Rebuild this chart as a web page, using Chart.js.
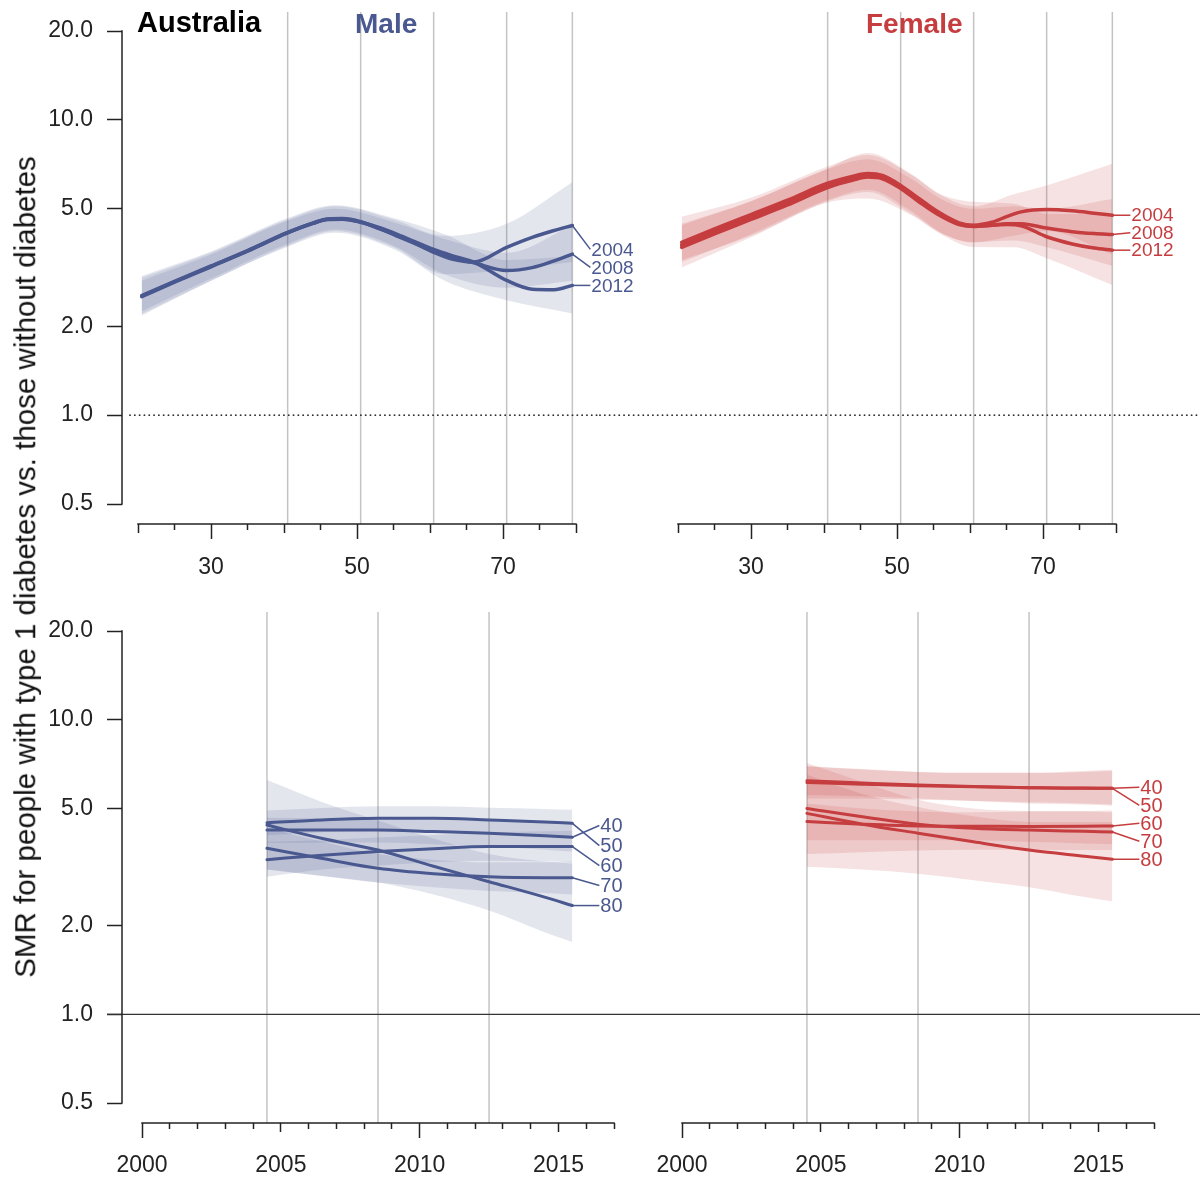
<!DOCTYPE html>
<html>
<head>
<meta charset="utf-8">
<title>SMR type 1 diabetes - Australia</title>
<script src="https://cdn.jsdelivr.net/npm/chart.js@4.4.1/dist/chart.umd.min.js"></script>
<style>
  body { margin: 0; background: #fff; }
  #wrap { position: relative; width: 1200px; height: 1181px; overflow: hidden; font-family: 'Liberation Sans', Arial, sans-serif; }
  canvas { position: absolute; }
  .txt { position: absolute; white-space: nowrap; line-height: 1; }
</style>
</head>
<body>
<div id="wrap">
  <canvas id="ageMale" width="640" height="590" style="left:0;top:0;width:640px;height:590px"></canvas>
  <canvas id="ageFemale" width="660" height="590" style="left:540px;top:0;width:660px;height:590px"></canvas>
  <canvas id="yearMale" width="640" height="591" style="left:0;top:590px;width:640px;height:591px"></canvas>
  <canvas id="yearFemale" width="660" height="591" style="left:540px;top:590px;width:660px;height:591px"></canvas>
  <div class="txt" style="left:137px;top:8px;font-size:29px;font-weight:bold;color:#000">Australia</div>
  <div class="txt" style="left:355px;top:10px;font-size:28px;font-weight:bold;color:#4a5890">Male</div>
  <div class="txt" style="left:866px;top:10px;font-size:28px;font-weight:bold;color:#c53d3f">Female</div>
  <div class="txt" style="left:25px;top:567px;font-size:29.5px;color:#111;transform:translate(-50%,-50%) rotate(-90deg)">SMR for people with type 1 diabetes vs. those without diabetes</div>
</div>
<script>
const MALE = '#4a5890';
const FEMALE = '#c53d3f';
const MALE_BAND = 'rgba(74,88,144,0.15)';
const FEMALE_BAND = 'rgba(197,61,63,0.15)';
const FONT = "'Liberation Sans', Arial, sans-serif";

// shared log y axis
const smrTicks = [0.5, 1, 2, 5, 10, 20];
const smrTop = 20;
const smrBottom = 0.4278; // a little room under 0.5 for the detached x axis

// ---- top row: SMR by age, one curve per calendar year
const periodNames = ['2004', '2008', '2012'];
const ageTicks = [20, 25, 30, 35, 40, 45, 50, 55, 60, 65, 70, 75, 80];
const ageLabels = [30, 50, 70];
const ageMedium = [20, 40, 60, 80];
const ageMarks = [40.5, 50.5, 60.5, 70.5, 79.5];

const maleAges = [20.5, 25, 30, 35, 40.5, 44, 46, 48, 50.5, 53, 56, 60.5, 63, 66, 70.5, 74, 77, 79.5];
const maleAge2004 = [2.54, 2.84, 3.20, 3.61, 4.16, 4.48, 4.62, 4.63, 4.52, 4.28, 4.02, 3.56, 3.38, 3.30, 3.70, 4.00, 4.22, 4.39];
const maleAge2008 = [2.53, 2.83, 3.19, 3.60, 4.15, 4.47, 4.61, 4.62, 4.51, 4.30, 3.99, 3.60, 3.42, 3.28, 3.09, 3.16, 3.33, 3.51];
const maleAge2012 = [2.52, 2.82, 3.18, 3.59, 4.14, 4.46, 4.60, 4.61, 4.50, 4.32, 4.05, 3.64, 3.47, 3.30, 2.86, 2.67, 2.66, 2.75];

const maleBandAges = [20.5, 30, 40.5, 47, 55, 62, 70.5, 79.5];
const maleAge2004Lo = [2.20, 2.85, 3.75, 4.20, 3.70, 3.00, 3.10, 3.30];
const maleAge2004Hi = [2.92, 3.55, 4.60, 5.10, 4.60, 4.05, 4.45, 6.15];
const maleAge2008Lo = [2.25, 2.90, 3.80, 4.25, 3.75, 3.00, 2.70, 2.85];
const maleAge2008Hi = [2.85, 3.50, 4.55, 5.00, 4.50, 3.95, 3.55, 4.40];
const maleAge2012Lo = [2.17, 2.85, 3.72, 4.15, 3.65, 2.85, 2.45, 2.21];
const maleAge2012Hi = [2.96, 3.58, 4.65, 5.14, 4.65, 4.10, 3.35, 3.45];

const femaleAges = [20.5, 25, 30, 35, 40.5, 44, 46, 48, 50.5, 53, 55.5, 58.5, 60.5, 63, 65, 67, 70.5, 74, 77, 79.5];
const femaleAge2004 = [3.85, 4.27, 4.78, 5.35, 6.10, 6.45, 6.58, 6.48, 6.00, 5.42, 4.90, 4.48, 4.40, 4.50, 4.70, 4.88, 4.97, 4.92, 4.83, 4.75];
const femaleAge2008 = [3.77, 4.19, 4.69, 5.25, 6.00, 6.35, 6.49, 6.40, 5.93, 5.35, 4.85, 4.45, 4.37, 4.40, 4.45, 4.45, 4.30, 4.18, 4.12, 4.09];
const femaleAge2012 = [3.70, 4.11, 4.60, 5.15, 5.90, 6.25, 6.40, 6.32, 5.86, 5.28, 4.80, 4.42, 4.35, 4.40, 4.42, 4.38, 4.02, 3.80, 3.68, 3.62];

const femaleBandAges = [20.5, 30, 40.5, 46, 52, 56, 60.5, 66, 70.5, 79.5];
const femaleAge2004Lo = [3.35, 4.05, 5.30, 5.70, 4.80, 4.15, 3.85, 4.05, 4.20, 3.50];
const femaleAge2004Hi = [4.70, 5.45, 6.95, 7.60, 6.50, 5.55, 5.10, 5.60, 6.00, 7.10];
const femaleAge2008Lo = [3.30, 4.10, 5.35, 5.80, 4.90, 4.15, 3.85, 3.90, 3.70, 3.20];
const femaleAge2008Hi = [4.45, 5.30, 6.80, 7.35, 6.30, 5.40, 5.00, 5.10, 5.00, 5.40];
const femaleAge2012Lo = [3.16, 4.00, 5.25, 5.42, 4.75, 4.10, 3.71, 3.70, 3.40, 2.76];
const femaleAge2012Hi = [4.40, 5.30, 6.85, 7.73, 6.55, 5.60, 5.28, 5.20, 4.80, 4.80];

// ---- bottom row: SMR by calendar year, one curve per age
const ageGroupNames = ['40', '50', '60', '70', '80'];
const yearTicks = [2000, 2001, 2002, 2003, 2004, 2005, 2006, 2007, 2008, 2009, 2010, 2011, 2012, 2013, 2014, 2015, 2016, 2017];
const yearLabels = [2000, 2005, 2010, 2015];
const yearLong = [2000, 2010];
const yearMedium = [2005, 2015];
const yearMarks = [2004.5, 2008.5, 2012.5];
const calYears = [2004.5, 2006.5, 2008.5, 2010.5, 2012.5, 2014.5, 2015.5];

const maleYear40 = [4.22, 4.22, 4.22, 4.17, 4.12, 4.04, 3.99];
const maleYear50 = [4.47, 4.57, 4.63, 4.63, 4.57, 4.50, 4.45];
const maleYear60 = [3.35, 3.47, 3.57, 3.65, 3.71, 3.71, 3.71];
const maleYear70 = [3.66, 3.38, 3.13, 3.00, 2.93, 2.91, 2.91];
const maleYear80 = [4.39, 3.95, 3.61, 3.18, 2.82, 2.50, 2.34];
const maleYear40Lo = [3.82, 3.83, 3.83, 3.78, 3.72, 3.62, 3.57];
const maleYear40Hi = [4.65, 4.63, 4.62, 4.58, 4.55, 4.50, 4.46];
const maleYear50Lo = [4.05, 4.15, 4.20, 4.20, 4.13, 4.05, 4.00];
const maleYear50Hi = [4.92, 5.02, 5.08, 5.08, 5.03, 4.98, 4.95];
const maleYear60Lo = [2.93, 3.10, 3.20, 3.28, 3.32, 3.30, 3.28];
const maleYear60Hi = [3.85, 3.90, 3.98, 4.06, 4.14, 4.18, 4.20];
const maleYear70Lo = [3.10, 2.95, 2.80, 2.70, 2.62, 2.58, 2.55];
const maleYear70Hi = [4.30, 3.85, 3.50, 3.35, 3.28, 3.28, 3.30];
const maleYear80Lo = [3.10, 2.95, 2.80, 2.55, 2.25, 1.90, 1.76];
const maleYear80Hi = [6.24, 5.25, 4.55, 3.95, 3.50, 3.30, 3.25];

const femaleYear40 = [6.21, 6.10, 6.00, 5.93, 5.88, 5.85, 5.85];
const femaleYear50 = [6.12, 6.04, 5.97, 5.92, 5.88, 5.86, 5.85];
const femaleYear60 = [4.51, 4.42, 4.36, 4.35, 4.34, 4.35, 4.36];
const femaleYear70 = [5.00, 4.68, 4.42, 4.28, 4.22, 4.18, 4.16];
const femaleYear80 = [4.81, 4.42, 4.12, 3.85, 3.61, 3.44, 3.36];
const femaleYear40Lo = [5.55, 5.50, 5.40, 5.30, 5.20, 5.15, 5.10];
const femaleYear40Hi = [6.95, 6.80, 6.65, 6.60, 6.60, 6.70, 6.76];
const femaleYear50Lo = [5.40, 5.40, 5.35, 5.30, 5.25, 5.20, 5.15];
const femaleYear50Hi = [6.95, 6.78, 6.65, 6.60, 6.60, 6.65, 6.70];
const femaleYear60Lo = [3.90, 3.90, 3.90, 3.90, 3.85, 3.80, 3.78];
const femaleYear60Hi = [5.20, 5.00, 4.88, 4.85, 4.88, 4.90, 4.92];
const femaleYear70Lo = [3.50, 3.55, 3.60, 3.62, 3.62, 3.61, 3.61];
const femaleYear70Hi = [7.13, 6.15, 5.35, 5.00, 4.90, 4.88, 4.85];
const femaleYear80Lo = [3.17, 3.10, 3.00, 2.85, 2.70, 2.50, 2.42];
const femaleYear80Hi = [6.50, 5.60, 5.05, 4.70, 4.50, 4.50, 4.50];

function pts(xs, ys) {
    return xs.map((x, i) => ({ x: x, y: ys[i] }));
}

function lineSet(xs, ys, color, width) {
    return {
        data: pts(xs, ys), borderColor: color, borderWidth: width,
        pointRadius: 0, fill: false, cubicInterpolationMode: 'monotone',
        borderCapStyle: 'round', borderJoinStyle: 'round', order: 0
    };
}

// upper edge fills down to the lower edge (next dataset)
function bandSets(xs, lo, hi, color) {
    return [
        { data: pts(xs, hi), borderColor: 'rgba(0,0,0,0)', borderWidth: 0, backgroundColor: color,
          pointRadius: 0, fill: '+1', cubicInterpolationMode: 'monotone', order: 1 },
        { data: pts(xs, lo), borderColor: 'rgba(0,0,0,0)', borderWidth: 0,
          pointRadius: 0, fill: false, cubicInterpolationMode: 'monotone', order: 1 }
    ];
}

function tickDash(longs, mediums) {
    return c => longs.includes(c.tick.value) ? [] : (mediums.includes(c.tick.value) ? [9, 40] : [6, 40]);
}

// reference lines, R-style axis lines and the end labels
function deco(d) {
    return {
        id: 'deco',
        beforeDatasetsDraw(chart) {
            const { ctx, chartArea, scales: { x, y } } = chart;
            ctx.save();
            ctx.strokeStyle = '#c4c4c4';
            ctx.lineWidth = 1.5;
            d.vlines.forEach(v => {
                const px = x.getPixelForValue(v);
                ctx.beginPath();
                ctx.moveTo(px, chartArea.top - 19);
                ctx.lineTo(px, chartArea.bottom);
                ctx.stroke();
            });
            const py = y.getPixelForValue(1);
            ctx.strokeStyle = '#333';
            if (d.dotted) {
                ctx.lineWidth = 1.9;
                ctx.lineCap = 'round';
                ctx.setLineDash([0.01, 4.8]);
            } else {
                ctx.lineWidth = 1.4;
            }
            ctx.beginPath();
            ctx.moveTo(d.refFrom, py);
            ctx.lineTo(d.refTo, py);
            ctx.stroke();
            ctx.restore();
        },
        afterDatasetsDraw(chart) {
            const { ctx } = chart;
            const metas = d.lines.map(i => chart.getDatasetMeta(i));
            const ends = metas.map(m => m.data[m.data.length - 1]);
            const lastY = ends[ends.length - 1].y;
            ctx.save();
            ctx.font = d.labelSize + 'px ' + FONT;
            ctx.textAlign = 'left';
            ctx.textBaseline = 'middle';
            ctx.strokeStyle = d.color;
            ctx.fillStyle = d.color;
            ctx.lineWidth = 1.5;
            d.names.forEach((name, k) => {
                const ly = lastY - (d.names.length - 1 - k) * d.gap;
                const e = ends[k];
                ctx.beginPath();
                ctx.moveTo(e.x, e.y);
                ctx.lineTo(e.x + d.dx, ly);
                ctx.stroke();
                ctx.fillText(name, e.x + d.dx + 1, ly + 1);
            });
            ctx.restore();
        },
        afterDraw(chart) {
            const { ctx, chartArea, scales: { x, y } } = chart;
            ctx.save();
            ctx.strokeStyle = '#222';
            ctx.lineWidth = 1.5;
            const t = x.ticks;
            ctx.beginPath();
            ctx.moveTo(x.getPixelForValue(t[0].value) - 0.75, chartArea.bottom);
            ctx.lineTo(x.getPixelForValue(t[t.length - 1].value) + 0.75, chartArea.bottom);
            ctx.stroke();
            if (d.showY) {
                ctx.beginPath();
                ctx.moveTo(chartArea.left, y.getPixelForValue(smrTop) - 0.75);
                ctx.lineTo(chartArea.left, y.getPixelForValue(smrTicks[0]) + 0.75);
                ctx.stroke();
            }
            ctx.restore();
        }
    };
}

function panel(id, cfg) {
    const showY = cfg.deco.showY;
    return new Chart(document.getElementById(id), {
        type: 'line',
        data: { datasets: cfg.datasets },
        options: {
            responsive: false,
            animation: false,
            events: [],
            layout: { padding: { left: showY ? 0 : 122, right: cfg.padRight, top: cfg.padTop, bottom: 0 } },
            plugins: { legend: { display: false }, tooltip: { enabled: false } },
            scales: {
                x: {
                    type: 'linear', position: 'bottom', min: cfg.xMin, max: cfg.xMax,
                    afterBuildTicks: s => { s.ticks = cfg.xTicks.map(v => ({ value: v })); },
                    afterFit: s => { s.height = cfg.axisH; },
                    border: { display: false },
                    grid: { drawOnChartArea: false, tickLength: 15, tickWidth: 1.5, tickColor: '#222',
                            tickBorderDash: tickDash(cfg.xLong, cfg.xMedium) },
                    ticks: { autoSkip: false, maxRotation: 0, padding: cfg.xPad, color: '#222',
                             font: { family: FONT, size: 23 },
                             callback: v => cfg.xLabels.includes(v) ? String(v) : '' }
                },
                y: {
                    type: 'logarithmic', display: showY, min: smrBottom, max: smrTop,
                    afterBuildTicks: s => { s.ticks = smrTicks.map(v => ({ value: v })); },
                    afterFit: s => { if (showY) s.width = 122; },
                    border: { display: false },
                    grid: { drawOnChartArea: false, tickLength: 15, tickWidth: 1.5, tickColor: '#222' },
                    ticks: { padding: 14, color: '#222', font: { family: FONT, size: 23 },
                             callback: v => Number(v).toFixed(1) }
                }
            }
        },
        plugins: [deco(cfg.deco)]
    });
}

// x range starts left of the first tick so the y axis sits detached, R style
const ageMin = 20 - 16 / 7.3;
const yearMin = 2000 - 20 / 27.73;

const topAge = { xMin: ageMin, xMax: 80, xTicks: ageTicks, xLabels: ageLabels, xLong: ageLabels, xMedium: ageMedium,
                 padTop: 31, axisH: 66, xPad: 15 };
const bottomYear = { xMin: yearMin, xMax: 2017, xTicks: yearTicks, xLabels: yearLabels, xLong: yearLong, xMedium: yearMedium,
                     padTop: 41, axisH: 58, xPad: 14 };

panel('ageMale', Object.assign({}, topAge, {
    padRight: 64,
    datasets: [
        lineSet(maleAges, maleAge2004, MALE, 3.5),
        lineSet(maleAges, maleAge2008, MALE, 3.5),
        lineSet(maleAges, maleAge2012, MALE, 3.5),
        ...bandSets(maleBandAges, maleAge2004Lo, maleAge2004Hi, MALE_BAND),
        ...bandSets(maleBandAges, maleAge2008Lo, maleAge2008Hi, MALE_BAND),
        ...bandSets(maleBandAges, maleAge2012Lo, maleAge2012Hi, MALE_BAND)
    ],
    deco: { showY: true, vlines: ageMarks, dotted: true, refFrom: 130, refTo: 600,
            lines: [0, 1, 2], names: periodNames, color: MALE, gap: 18, dx: 18, labelSize: 19 }
}));

panel('ageFemale', Object.assign({}, topAge, {
    padRight: 84,
    datasets: [
        lineSet(femaleAges, femaleAge2004, FEMALE, 3.5),
        lineSet(femaleAges, femaleAge2008, FEMALE, 3.5),
        lineSet(femaleAges, femaleAge2012, FEMALE, 3.5),
        ...bandSets(femaleBandAges, femaleAge2004Lo, femaleAge2004Hi, FEMALE_BAND),
        ...bandSets(femaleBandAges, femaleAge2008Lo, femaleAge2008Hi, FEMALE_BAND),
        ...bandSets(femaleBandAges, femaleAge2012Lo, femaleAge2012Hi, FEMALE_BAND)
    ],
    deco: { showY: false, vlines: ageMarks, dotted: true, refFrom: 60, refTo: 660,
            lines: [0, 1, 2], names: periodNames, color: FEMALE, gap: 17.5, dx: 18, labelSize: 19 }
}));

panel('yearMale', Object.assign({}, bottomYear, {
    padRight: 26,
    datasets: [
        lineSet(calYears, maleYear40, MALE, 3),
        lineSet(calYears, maleYear50, MALE, 3),
        lineSet(calYears, maleYear60, MALE, 3),
        lineSet(calYears, maleYear70, MALE, 3),
        lineSet(calYears, maleYear80, MALE, 3),
        ...bandSets(calYears, maleYear40Lo, maleYear40Hi, MALE_BAND),
        ...bandSets(calYears, maleYear50Lo, maleYear50Hi, MALE_BAND),
        ...bandSets(calYears, maleYear60Lo, maleYear60Hi, MALE_BAND),
        ...bandSets(calYears, maleYear70Lo, maleYear70Hi, MALE_BAND),
        ...bandSets(calYears, maleYear80Lo, maleYear80Hi, MALE_BAND)
    ],
    deco: { showY: true, vlines: yearMarks, dotted: false, refFrom: 107, refTo: 600,
            lines: [0, 1, 2, 3, 4], names: ageGroupNames, color: MALE, gap: 20, dx: 27, labelSize: 20 }
}));

panel('yearFemale', Object.assign({}, bottomYear, {
    padRight: 46,
    datasets: [
        lineSet(calYears, femaleYear40, FEMALE, 3),
        lineSet(calYears, femaleYear50, FEMALE, 3),
        lineSet(calYears, femaleYear60, FEMALE, 3),
        lineSet(calYears, femaleYear70, FEMALE, 3),
        lineSet(calYears, femaleYear80, FEMALE, 3),
        ...bandSets(calYears, femaleYear40Lo, femaleYear40Hi, FEMALE_BAND),
        ...bandSets(calYears, femaleYear50Lo, femaleYear50Hi, FEMALE_BAND),
        ...bandSets(calYears, femaleYear60Lo, femaleYear60Hi, FEMALE_BAND),
        ...bandSets(calYears, femaleYear70Lo, femaleYear70Hi, FEMALE_BAND),
        ...bandSets(calYears, femaleYear80Lo, femaleYear80Hi, FEMALE_BAND)
    ],
    deco: { showY: false, vlines: yearMarks, dotted: false, refFrom: 60, refTo: 660,
            lines: [0, 1, 2, 3, 4], names: ageGroupNames, color: FEMALE, gap: 18, dx: 27, labelSize: 20 }
}));
</script>
</body>
</html>
